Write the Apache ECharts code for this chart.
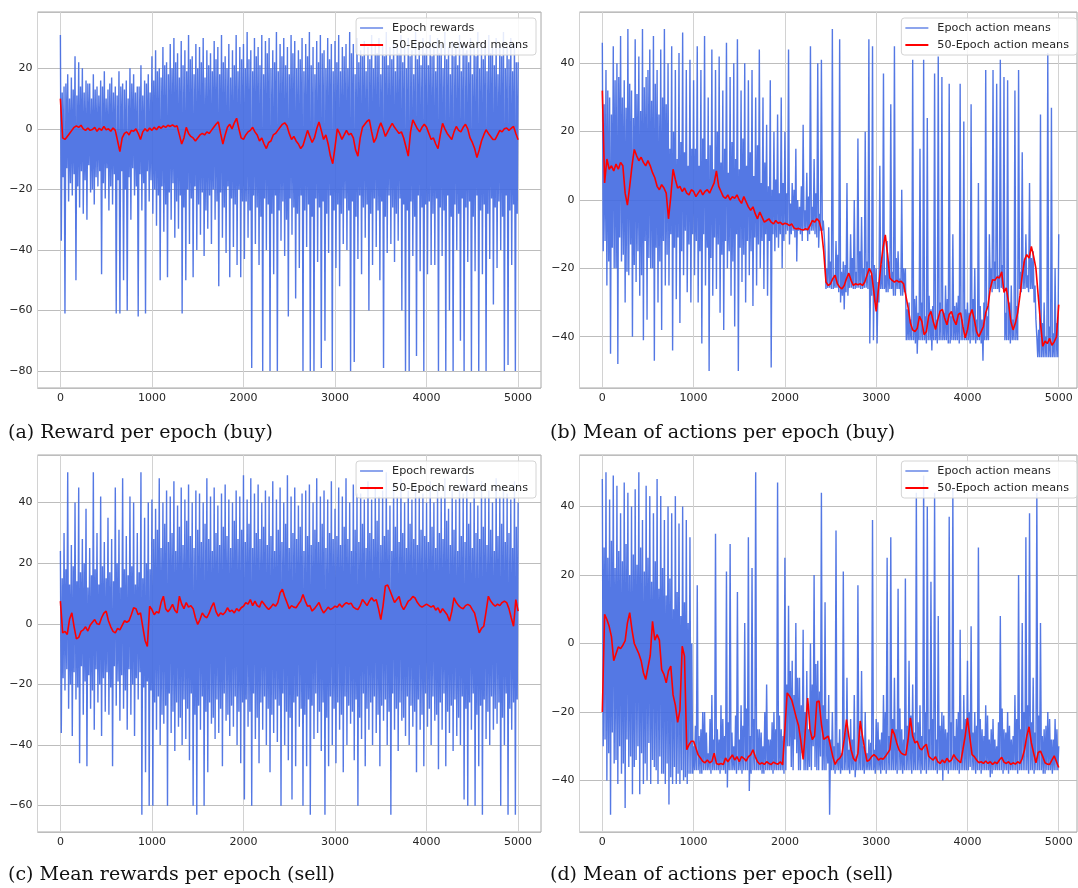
<!DOCTYPE html>
<html><head><meta charset="utf-8">
<script src="https://cdn.jsdelivr.net/npm/echarts@6/dist/echarts.min.js"></script>
<style>html,body{margin:0;padding:0;background:#fff}#c{width:1078px;height:888px}</style>
</head><body><div id="c"></div>
<script>
// ---------------- data ----------------
const RAW_STEP = 10;   // epochs between raw samples
const MEAN_STEP = 25;  // epochs between moving-mean samples
const captions = ['(a) Reward per epoch (buy)', '(b) Mean of actions per epoch (buy)',
                  '(c) Mean rewards per epoch (sell)', '(d) Mean of actions per epoch (sell)'];
const rewardLegend = ['Epoch rewards', '50-Epoch reward means'];
const actionLegend = ['Epoch action means', '50-Epoch action means'];

const buyRewards = [
31,-37,12,-16,14,-61,15,-13,18,-24,10,-18,17,-22,13,-15,24,-50,11,-19,22,-26,14,-14,20,-28,12,-17,16,-30,15,-12,15,-21,10,-20,18,-25,13,-16,14,-19,11,-14,16,-48,14,-18,19,-23,10,-13,13,-27,15,-19,17,-25,12,-15,14,-61,11,-17,19,-61,14,-14,15,-50,13,-20,16,-60,10,-16,20,-30,15,-13,18,-22,12,-19,14,-62,14,-15,21,-27,11,-18,16,-61,15,-14,18,-24,12,-17,
24,-28,16,-20,26,-32,19,-22,20,-50,17,-19,27,-34,21,-25,22,-49,18,-21,28,-30,20,-18,30,-36,22,-24,25,-33,17,-22,29,-61,21,-26,26,-50,19,-20,31,-38,23,-23,24,-49,18,-19,28,-40,20,-25,27,-35,22,-21,30,-42,17,-27,26,-33,21,-22,25,-38,19,-20,29,-30,23,-24,27,-52,18,-21,31,-36,22,-26,24,-41,20,-19,28,-49,17,-23,26,-39,21,-25,31,-45,19,-20,27,-49,23,-24,
28,-43,20,-24,32,-36,23,-27,26,-79,19,-22,30,-38,24,-26,27,-45,21,-29,31,-80,18,-23,29,-40,25,-25,30,-80,20,-28,26,-48,22,-22,32,-80,19,-27,28,-37,24,-24,30,-42,21,-30,27,-62,18,-23,31,-35,25,-26,29,-56,20,-28,26,-46,23,-22,30,-80,19,-27,28,-39,24,-25,32,-80,21,-29,27,-80,18,-23,29,-44,22,-26,31,-79,25,-24,26,-70,20,-28,30,-41,23,-22,28,-80,19,-27,
29,-46,22,-25,31,-52,19,-28,27,-38,24,-23,28,-40,20,-27,32,-80,25,-24,28,-77,18,-29,30,-43,22,-22,26,-48,24,-26,29,-36,19,-25,27,-60,23,-28,31,-45,20,-23,28,-39,25,-27,30,-50,18,-24,28,-79,24,-29,32,-41,21,-22,27,-38,23,-26,29,-44,19,-28,28,-37,25,-23,31,-60,22,-25,27,-80,20,-27,30,-80,24,-24,26,-42,18,-29,32,-75,23,-22,28,-47,21,-26,30,-80,25,-25,
27,-48,21,-24,31,-45,24,-28,28,-45,19,-23,30,-80,25,-26,28,-42,20,-27,32,-80,23,-22,27,-60,18,-29,29,-80,24,-25,28,-40,21,-28,31,-70,19,-23,28,-80,25,-26,26,-44,22,-24,30,-80,18,-29,27,-47,24,-22,32,-80,20,-27,28,-48,23,-25,29,-80,19,-28,31,-43,25,-23,27,-58,21,-26,30,-46,18,-24,28,-40,24,-29,32,-80,20,-22,27,-78,23,-27,30,-45,19,-25,28,-80,22,-28,
22];
const buyRewardMeans = [
10,-3,-3.5,-2.5,-1.5,-0.5,0.5,1,0.5,1.2,0,-0.5,0.3,-0.5,-0.2,0.5,-0.8,0.2,-0.5,0.8,
-0.3,0,-0.8,0.3,-0.5,-4,-7.5,-3,-1.5,-1,-2,-0.5,-0.8,0,-1.5,-3.5,-1,0,-0.8,0.3,
-0.5,0.5,-0.3,0.8,0.2,1,0.5,1.2,0.8,1.3,0.7,1,-2,-5,-3,0.5,-1.5,-2.5,-3,-4,
-3,-2,-1.5,-2,-1,-1.5,-0.5,0.5,1.5,2.3,-1.5,-5,-2,0.5,1.5,0,2,3.5,0,-3,
-3.5,-2,-1,-0.5,0.5,-1,-2,-4,-3,-5,-6.5,-4.5,-4,-2,-1.5,-0.5,0.5,1.5,2,1,
-1.5,-3.5,-2.5,-4,-5,-6.5,-5.5,-3,-0.5,-2.5,-4.5,-3,0,2.3,-0.5,-3.5,-2,-5,-9,-11.5,
-6,0,-1.5,-3.5,-2,-0.5,-2,-1.5,-3,-7,-9,-3,0.5,1.5,2.5,3,-1,-4.5,-3,0,
2,0,-2.5,-1,0.5,1.8,0.5,-0.5,-1.5,-1,-3,-6,-9,-1,3,1.5,0,-1,0.5,1.5,
0.5,-1.5,-3.5,-3,-5,-6.5,-2,1.8,0,-1.5,-2.5,-3.5,-1,0.8,-0.5,-1,0.5,1.5,0,-3,
-4.5,-6.5,-9.5,-7,-4,-2,-0.3,-1.5,-2.5,-3.5,-3.5,-2,-0.5,-1,0,0.3,-0.5,0.2,0.8,-1.5,
-3.6];

const buyActions = [
46,-15,28,-12,38,-25,32,-18,30,-45,25,-14,45,-20,35,-20,40,-48,36,-11,48,-18,30,-16,35,-30,27,-21,50,-22,34,-13,32,-40,24,-19,47,-24,31,-15,42,-28,26,-22,50,-41,33,-12,36,-35,38,-17,44,-20,29,-20,48,-47,34,-14,38,-30,25,-18,44,-38,30,-12,50,-25,28,-16,40,-25,15,-10,45,-44,20,-14,38,-29,12,-11,43,-36,17,-15,49,-22,14,-9,38,-27,10,-13,41,-30,15,-10,
35,-22,15,-12,45,-30,10,-15,38,-42,18,-10,48,-25,12,-14,30,-50,16,-17,44,-28,9,-11,38,-26,20,-13,42,-33,11,-16,32,-38,15,-12,46,-20,8,-15,36,-28,17,-18,40,-37,12,-10,47,-50,9,-14,32,-24,18,-16,40,-30,10,-12,35,-22,14,-15,38,-31,7,-11,30,-25,16,-13,44,-20,5,-12,30,-26,11,-10,22,-28,4,-12,35,-49,3,-10,20,-15,6,-11,25,-14,2,-10,30,-20,5,-12,
20,-10,2,-9,44,-13,-1,-10,5,-9,3,-11,15,-18,0,-9,-2,-10,4,-12,22,-9,-3,-9,8,-12,1,-10,45,-9,-2,-9,12,-10,2,-11,40,-14,-4,-9,41,-9,-6,-10,-15,-26,-20,-25.7,-8,-25.7,-18,-26,50,-26,-22,-25.7,-12,-25.7,-16,-27,47,-30,-21,-28,-18,-32,-19,-27,5,-28,-22,-25.7,-10,-25.7,-17,-26,0,-26,-21,-25.7,18,-25.7,-15,-26,-5,-26,-20,-25.7,20,-25.7,-18,-26,47,-42,-22,-28,45,-41,-19,-30,
-20,-42,-24,-30,10,-26,-19,-26,37,-26,-22,-27,-12,-27,-18,-26,28,-26,-21,-28,45,-28,-17,-26,-15,-26,-23,-28,3,-28,-20,-27,-20,-41,-32,-41,-30,-41,-35,-41,41,-41,-29,-42,-28,-45,-33,-41,15,-41,-30,-41,41,-41,-34,-42,24,-41,-28,-41,-32,-44,-31,-41,37,-41,-35,-42,42,-41,-30,-41,36,-41,-33,-41,-25,-41,-29,-42,34,-42,-34,-41,-10,-41,-31,-41,-30,-41,-28,-42,34,-41,-35,-41,23,-41,-32,-41,
-30,-41,-33,-42,28,-41,-29,-41,-20,-42,-35,-41,5,-41,-31,-42,-35,-47,-30,-41,38,-41,-34,-41,-10,-26,-20,-27,38,-26,-18,-26,34,-26,-22,-27,41,-25.7,-19,-26,36,-41,-33,-41,35,-41,-30,-42,-25,-41,-35,-41,32,-41,-31,-41,38,-26,-21,-27,14,-26,-18,-26,-10,-25.7,-22,-27,5,-26,-17,-26,-15,-30,-25,-35,-40,-46,-38,-46,25,-46,-36,-46,-30,-46,-40,-46,43,-46,-37,-46,27,-46,-39,-46,-20,-46,-36,-46,
-10];
const buyActionMeans = [
32,5,12,9,10,8.5,10.5,9,11,10,2,-1.5,4,10,14.8,13,11.5,12.5,11,10,
11.5,10,8,6.5,4,3,4.5,3.5,2,-5.5,1,9,6,3.5,4,2.5,3.5,2,1.5,3,
2.5,1,2,3,1.5,2.5,3,2,3.5,5,8.5,4,2.5,1,0.5,1.5,0,1,0.5,1.5,
0,-1,1,-0.5,-2,-3,-2,-4,-5.5,-3.5,-5,-6.5,-6,-5.5,-6.5,-7,-6,-6.8,-6.5,-7.2,
-6.8,-7,-7.5,-7,-8.2,-8.5,-8.3,-8.6,-8.8,-8.4,-8.7,-7.5,-6,-6.5,-5.5,-6.2,-8.7,-15,-24,-25,
-24.5,-23,-22,-24.5,-25.5,-26,-25,-23,-21.4,-23.5,-25,-24.5,-24.8,-24.5,-25,-24,-22,-20,-21.5,-27,
-32.6,-26,-19.5,-14,-10.2,-16,-22.8,-23.5,-24,-23.5,-24,-23.8,-24.5,-28,-31.5,-36,-38,-38.5,-37.5,-34,
-35.5,-39.4,-38.5,-34,-32.6,-35.5,-37.9,-35,-32.5,-32,-34.5,-36.5,-33.5,-32.6,-35,-36.5,-33.5,-33,-37,-40.3,
-38,-34,-32,-35,-38.5,-40,-38.5,-37,-33,-31,-26,-23.3,-23.5,-22.5,-22.8,-21,-27,-25.7,-30,-35.5,
-38,-36,-33,-28,-22,-17.5,-16,-17,-13.6,-16.5,-20,-28,-36,-42.8,-41.3,-42,-40.5,-42.5,-41.5,-40,
-30.6];

const sellRewards = [
24,-36,15,-18,30,-22,18,-15,50,-28,13,-20,26,-37,19,-16,40,-25,14,-21,45,-46,17,-14,28,-30,20,-19,38,-47,12,-17,25,-28,16,-22,50,-35,18,-15,30,-26,13,-20,42,-37,19,-18,27,-29,15,-16,35,-30,17,-21,28,-47,14,-14,45,-27,20,-19,31,-32,12,-17,48,-28,18,-22,29,-35,16,-15,42,-30,19,-20,40,-37,13,-18,30,-25,17,-16,50,-63,15,-21,35,-49,20,-19,40,-60,18,-22,
41,-60,28,-26,38,-35,31,-24,48,-40,25,-30,40,-33,33,-27,44,-60,27,-23,42,-36,30,-29,47,-42,24,-26,39,-34,32,-31,45,-40,26,-25,41,-38,34,-28,46,-45,29,-23,40,-60,25,-30,44,-63,31,-27,43,-35,27,-24,40,-60,33,-29,48,-49,28,-26,42,-33,24,-31,45,-38,30,-25,39,-36,26,-28,43,-47,32,-23,46,-32,29,-30,41,-37,25,-27,40,-34,34,-24,44,-40,28,-29,42,-46,31,-26,
49,-58,27,-25,41,-34,33,-29,48,-60,25,-23,43,-38,30,-31,46,-46,28,-26,40,-35,32,-24,44,-40,26,-28,42,-49,29,-30,47,-36,24,-25,41,-39,31,-27,45,-60,27,-23,40,-40,33,-29,49,-45,25,-31,42,-58,30,-26,45,-47,28,-24,39,-34,32,-28,43,-60,24,-30,44,-47,29,-25,46,-63,26,-27,40,-38,31,-23,48,-36,27,-29,42,-42,33,-26,44,-63,25,-31,41,-47,30,-24,47,-40,28,-28,
38,-46,29,-26,45,-35,26,-30,42,-49,32,-24,48,-40,28,-27,40,-33,24,-29,46,-45,31,-25,43,-60,27,-31,43,-38,33,-23,41,-47,25,-28,47,-35,30,-26,41,-40,28,-24,45,-36,34,-30,42,-47,26,-27,44,-32,29,-25,50,-40,31,-29,39,-63,24,-23,46,-35,32,-28,42,-42,27,-26,48,-32,30,-31,40,-37,25,-24,44,-40,33,-27,41,-34,28,-29,46,-49,26,-25,42,-35,31,-30,43,-47,29,-23,
40,-34,27,-28,47,-40,32,-24,40,-32,25,-30,45,-48,30,-26,42,-35,28,-23,48,-47,34,-29,38,-36,26,-27,44,-42,31,-25,41,-37,24,-31,46,-40,29,-24,43,-58,27,-28,49,-60,33,-26,40,-35,25,-23,45,-60,30,-30,39,-47,28,-27,47,-63,32,-25,42,-38,26,-29,44,-40,31,-24,40,-35,24,-28,48,-33,29,-26,42,-60,33,-31,45,-40,27,-23,43,-63,30,-28,41,-35,25,-26,47,-63,32,-25,
40];
const sellRewardMeans = [
7.5,-3,-2.5,-3.5,1.5,3.6,-1,-5,-4.5,-2.5,-2,-1,-2.4,-0.5,0.5,1.4,0,-0.2,2,3.5,
4.2,1,-1,-2.5,-3,-1.5,-2,-0.5,1,0.5,1,3,5.3,5,3,3.6,-1,-5.5,-7.5,5.8,
4.7,3,4,3.5,7,9.1,5,4,5,6.4,4.5,3.6,9.1,6.5,5,7,5.5,6,5,2,
-0.2,1.4,3.6,2.5,2,3.5,5.5,7,4,2.5,3.6,3,3.8,5.3,4,4.5,3.6,5,4.2,5.3,
5.8,7,6.5,8,6,7.5,6,5.5,7.5,6.5,5.5,4.7,5.5,6.5,5.8,7,10.2,11.4,9,7,
5,6,5.5,5.3,6.5,7.5,9.7,7.5,5.8,6,4.2,5,6,7,5,3.6,4.5,5.5,4.7,5.2,
5.8,5.5,6.5,5.5,6.4,7,6.5,6.8,5.5,5,4.7,6,8,7,6,7.5,8.6,7.5,8,5,
1.4,6,12.5,12.8,11,9,7,8,9,6,4.7,6,7.5,8,9,8.5,7,6,5.5,6,
6.5,6,5.5,6,4.5,5.3,3.6,5,4,3,0.9,4,8.6,7,6,5.3,5,6,6.4,6,
4.7,3.5,0.3,-3,-1.5,-0.8,4,9.1,7.5,6.5,5.8,6.5,6,7,7.5,7,5,2,-0.8,8,
4.2];

const sellActions = [
48,-30,28,-28,50,-40,25,-32,42,-50,30,-26,49,-35,22,-34,46,-41,27,-30,38,-38,24,-35,47,-48,29,-28,44,-36,20,-33,40,-44,26,-36,45,-34,23,-30,50,-44,28,-32,36,-41,21,-35,46,-40,25,-29,43,-41,18,-34,38,-36,24,-37,48,-41,16,-33,43,-38,22,-38,36,-41,14,-35,40,-47,19,-39,38,-41,10,-36,43,-41,15,-38,35,-41,8,-37,40,-40,12,-39,36,-41,6,-38,31,-38,0,-38,
-30,-37,-24,-37,17,-37,-27,-38,-25,-38,-20,-37,-20,-37,-26,-37,-32,-37,-22,-38,-15,-37,-28,-37,32,-37,-25,-37,-28,-38,-18,-37,-22,-37,-27,-38,21,-42,-23,-37,29,-37,-26,-37,-30,-37,-21,-38,15,-37,-28,-37,-18,-38,-24,-37,6,-37,-19,-37,31,-43,-27,-38,22,-37,-22,-37,50,-37,-25,-37,-25,-37,-26,-38,-30,-38,-20,-37,-12,-37,-28,-37,-28,-37,-23,-38,-20,-37,-25,-37,47,-37,-21,-37,-25,-37,-27,-38,
25,-37,-12,-30,11,-30,-8,-36,-5,-37,-15,-28,6,-32,-10,-37,-10,-37,-18,-32,4,-37,-20,-37,-8,-37,-25,-36,0,-37,-12,-30,20,-36,-6,-37,-5,-37,-14,-33,44,-37,-18,-37,12,-37,-22,-35,-15,-50,-28,-37,-20,-37,-30,-38,33,-37,-29,-37,-25,-38,-32,-37,21,-37,-26,-37,-10,-37,-31,-38,-22,-37,-28,-37,-15,-39,-33,-37,17,-37,-27,-37,-8,-37,-30,-38,-20,-37,-32,-37,-28,-37,-29,-37,36,-37,-31,-38,
-22,-37,-23,-37,-28,-38,-26,-37,-15,-37,-20,-38,25,-37,-27,-37,31,-37,-22,-37,-10,-37,-25,-38,16,-37,-19,-37,-25,-38,-28,-37,19,-37,-24,-37,-5,-37,-21,-38,-12,-37,-26,-37,44,-37,-23,-37,-18,-38,-27,-37,49,-37,-20,-38,40,-37,-25,-37,18,-37,-22,-37,44,-37,-28,-38,8,-37,-24,-37,-20,-40,-21,-37,-25,-37,-26,-38,37,-37,-23,-37,45,-37,-27,-37,-22,-37,-20,-38,4,-37,-25,-37,-15,-37,-22,-37,
-5,-37,-20,-36,5,-37,-26,-37,-20,-38,-24,-37,28,-37,-22,-38,-25,-37,-27,-37,-18,-37,-21,-37,-28,-39,-25,-38,-22,-37,-28,-37,-30,-37,-23,-37,8,-37,-19,-38,-25,-37,-26,-37,-20,-38,-24,-37,-28,-37,-27,-37,-15,-37,-22,-38,20,-37,-25,-37,6,-37,-20,-37,31,-37,-18,-38,38,-37,-23,-37,-10,-38,-26,-37,44,-37,-21,-37,6,-37,-27,-38,-25,-38,-24,-37,-20,-37,-22,-37,-28,-38,-28,-37,-22,-37,-25,-37,
-30];
const sellActionMeans = [
-20,8.5,7,5,2,-5,-3,-1,-1.5,-0.5,0.8,6,9,4,0,-1.5,-3,-5,-8.5,-10.5,
-7,-3.5,6.5,1,2.6,1,-7.6,-9,-11.5,-8,-6.6,-15,-18,-23,-19.5,-0.8,-3.7,-31,-29.5,-28.5,
-28.5,-30.5,-32.5,-33.4,-34.4,-34.8,-34,-34.8,-34.4,-32,-35,-35.3,-35,-35.3,-33.4,-34.5,-33.5,-32.5,-34,-33,
-34.5,-33,-33.5,-34.3,-33,-32.5,-31,-33,-34.5,-35.2,-34.8,-35.3,-34.5,-35,-35.3,-34.6,-35,-35.2,-34.5,-35.4,
-25,-14.4,-15.3,-16.5,-19,-21.7,-24,-28.5,-33.8,-25,-15.9,-25,-28,-27,-17,-16.8,-23.5,-28,-27.5,-27,
-30,-33,-35.3,-34,-33.5,-32.4,-28,-22.2,-27,-31,-33.5,-34.4,-32,-22.6,-27,-31,-34.4,-34,-33,-32.4,
-33,-34,-33.5,-33.8,-33,-32,-31,-25,-26.5,-29,-31,-32,-32.4,-32.5,-28,-21.7,-27,-29,-28.5,-30.5,
-31,-30,-29.4,-32.9,-33.5,-34,-33,-34.5,-35,-34,-34.8,-33.5,-34.5,-34,-32.4,-33.5,-34.2,-34.8,-31,-27,
-21.7,-27,-32.4,-33,-34,-34.8,-34.5,-35,-34.3,-35,-34.5,-35.3,-34.6,-35,-34,-33.2,-34.6,-35,-34.5,-35.3,
-34.8,-35.2,-34.5,-35,-33.5,-31,-27,-24.3,-29,-32,-34.8,-31.8,-31.4,-33,-34.8,-35.2,-35.3,-34,-32.8,-34.5,
-36.2];

// ---------------- chart ----------------
const FONT = 'DejaVu Sans';
const TXT = '#262626';
const fmt = v => String(v).replace('-', '\u2212');
const toPairs = (arr, step) => arr.map((v, i) => [i * step, v]);

const panels = [
  {raw: buyRewards, mean: buyRewardMeans, names: rewardLegend, y: [-85.6, 38.6], xMax: 5250,
   grid: {left: 37.5, top: 12, width: 503.5, height: 376}, legend: {right: 542, top: 18}, cap: {left: 8, top: 424}},
  {raw: buyActions, mean: buyActionMeans, names: actionLegend, y: [-55, 55], xMax: 5200,
   grid: {left: 579.5, top: 12, width: 497.5, height: 376}, legend: {right: 1, top: 18}, cap: {left: 550, top: 424}},
  {raw: sellRewards, mean: sellRewardMeans, names: rewardLegend, y: [-68.7, 55.7], xMax: 5250,
   grid: {left: 37.5, top: 455, width: 503.5, height: 377}, legend: {right: 542, top: 461}, cap: {left: 8, top: 866}},
  {raw: sellActions, mean: sellActionMeans, names: actionLegend, y: [-55, 55], xMax: 5200,
   grid: {left: 579.5, top: 455, width: 497.5, height: 377}, legend: {right: 1, top: 461}, cap: {left: 550, top: 866}}
];

const option = {
  animation: false,
  backgroundColor: '#ffffff',
  title: panels.map((p, i) => ({
    text: captions[i], left: p.cap.left, top: p.cap.top, padding: 0,
    textStyle: {fontFamily: 'DejaVu Serif', fontSize: 19, fontWeight: 'normal', color: '#111'}
  })),
  grid: panels.map(p => Object.assign({show: true, borderColor: '#a8a8a8', borderWidth: 1,
    backgroundColor: 'transparent', containLabel: false, outerBoundsMode: 'none'}, p.grid)),
  xAxis: panels.map((p, i) => ({
    type: 'value', gridIndex: i, min: -250, max: p.xMax, minInterval: 1000, maxInterval: 1000, splitNumber: 5,
    axisLine: {show: false}, axisTick: {show: false},
    axisLabel: {showMinLabel: false, showMaxLabel: false, margin: 5, fontFamily: FONT, fontSize: 11, color: TXT, formatter: fmt},
    splitLine: {show: true, lineStyle: {color: '#d2d2d2', width: 1}}
  })),
  yAxis: panels.map((p, i) => ({
    type: 'value', gridIndex: i, min: p.y[0], max: p.y[1], minInterval: 20, maxInterval: 20, splitNumber: 5,
    axisLine: {show: false}, axisTick: {show: false},
    axisLabel: {showMinLabel: false, showMaxLabel: false, margin: 5, fontFamily: FONT, fontSize: 11, color: TXT, formatter: fmt},
    splitLine: {show: true, lineStyle: {color: '#bdbdbd', width: 1}}
  })),
  legend: panels.map(p => ({
    orient: 'vertical', right: p.legend.right, top: p.legend.top, selectedMode: false,
    icon: 'rect', itemWidth: 23, itemHeight: 2, itemGap: 3, padding: [3, 8, 3, 4],
    backgroundColor: 'rgba(255,255,255,0.85)', borderColor: '#d4d4d4', borderWidth: 1, borderRadius: 3,
    textStyle: {fontFamily: FONT, fontSize: 11.2, color: TXT, lineHeight: 14, padding: [0, 0, 0, 4]},
    data: [{name: p.names[0], itemStyle: {opacity: 0.6}}, {name: p.names[1]}]
  })),
  series: panels.flatMap((p, i) => [
    {type: 'line', name: p.names[0], xAxisIndex: i, yAxisIndex: i, data: toPairs(p.raw, RAW_STEP),
     symbol: 'none', showSymbol: false, silent: true, z: 2,
     itemStyle: {color: '#4169E1'}, lineStyle: {color: '#4169E1', width: 1.4, opacity: 0.9}},
    {type: 'line', name: p.names[1], xAxisIndex: i, yAxisIndex: i, data: toPairs(p.mean, MEAN_STEP),
     symbol: 'none', showSymbol: false, silent: true, z: 3,
     itemStyle: {color: '#ff0000'}, lineStyle: {color: '#ff0000', width: 1.6}}
  ])
};

const chart = echarts.init(document.getElementById('c'), null, {renderer: 'canvas', width: 1078, height: 888});
chart.setOption(option);
</script>
</body></html>
